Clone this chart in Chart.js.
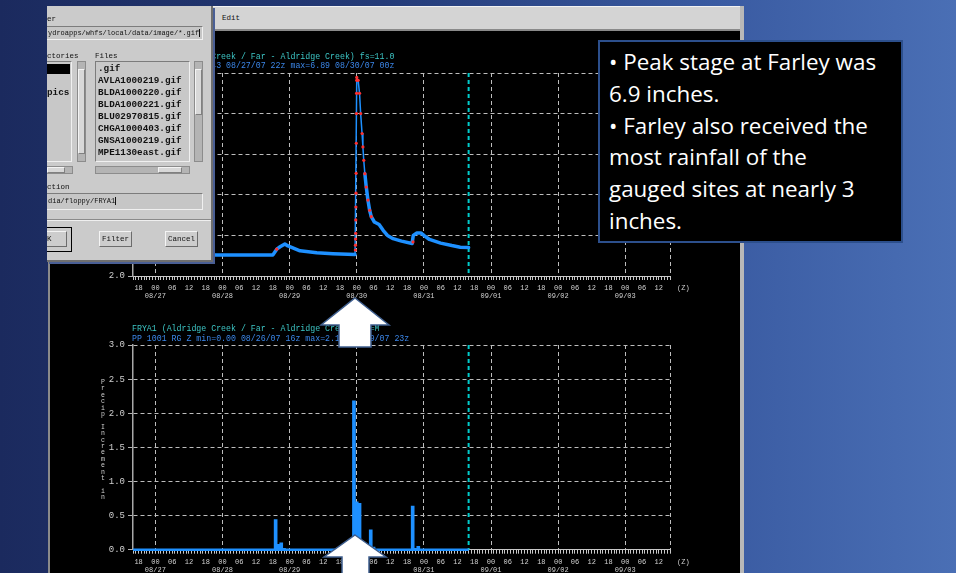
<!DOCTYPE html>
<html lang="en">
<head>
<meta charset="UTF-8" />
<title>FRYA1 Aldridge Creek at Farley</title>
<script src="https://cdn.jsdelivr.net/npm/chart.js"></script>
<style>
  body {
    margin: 0;
    width: 956px;
    height: 573px;
    overflow: hidden;
    position: relative;
    background: linear-gradient(90deg, #1b2a5e 0%, #243b78 40%, #3a5ba2 75%, #4a6fb5 100%);
    font-family: 'Liberation Mono', 'DejaVu Sans Mono', monospace;
  }
  .abs { position: absolute; }
  #win {
    left: 48px; top: 6px; width: 694px; height: 567px;
    background: #000; border-left: 2px solid #8a8a8a; box-sizing: border-box;
  }
  #menubar {
    left: 213px; top: 6px; width: 530px; height: 25px;
    background: #d4d4d4; border-top: 1px solid #f2f2f2; border-bottom: 2px solid #8a8a8a;
    box-sizing: border-box; font-size: 7.5px; line-height: 22px; padding-left: 9px; color: #111;
  }
  #rightedge { left: 740px; top: 6px; width: 4px; height: 567px; background: #b8b8b8; }
  canvas { position: absolute; z-index: 2; }
  .ttl { position: absolute; z-index: 3; white-space: pre; font-size: 8.25px; line-height: 10px; }
  .teal { color: #3cc4c4; }
  .blue { color: #3b86e8; }
  .zlab { position: absolute; z-index: 3; color: #d0d0d0; font-size: 7px; line-height: 8px; }
  #ylab {
    position: absolute; z-index: 3; left: 100px; top: 380px; width: 6px;
    color: #d0d0d0; font-size: 6.5px; line-height: 6.4px; white-space: pre; text-align: center;
  }

  /* file selection dialog */
  #dlg {
    left: 47px; top: 6px; width: 166px; height: 256px; z-index: 5; overflow: hidden;
    background: #cbcbcb; border-right: 2px solid #6f6f6f; border-bottom: 2px solid #6f6f6f;
    box-sizing: border-box; box-shadow: 2px 2px 0 #4a5f95; color: #111;
  }
  #dlg div { position: absolute; box-sizing: border-box; }
  #dlg .lbl { font-size: 7.5px; line-height: 10px; white-space: pre; }
  #dlg .field {
    background: #c6c6c6; border-top: 1px solid #7c7c7c; border-left: 1px solid #7c7c7c;
    border-bottom: 1px solid #f0f0f0; border-right: 1px solid #f0f0f0;
    font-size: 7px; white-space: pre; padding-left: 4px;
  }
  #dlg .list {
    background: #c8c8c8; border-top: 1px solid #7c7c7c; border-left: 1px solid #7c7c7c;
    border-bottom: 1px solid #f0f0f0; border-right: 1px solid #f0f0f0;
  }
  #dlg .item { font-size: 9.3px; font-weight: bold; line-height: 12px; white-space: pre; }
  #dlg .sb { background: #b4b4b4; border: 1px solid #8c8c8c; }
  #dlg .thumb { background: #d8d8d8; border-top: 1px solid #f4f4f4; border-left: 1px solid #f4f4f4;
    border-bottom: 1px solid #808080; border-right: 1px solid #808080; }
  #dlg .btn {
    background: #cdcdcd; border-top: 1px solid #f4f4f4; border-left: 1px solid #f4f4f4;
    border-bottom: 1px solid #6c6c6c; border-right: 1px solid #6c6c6c;
    font-size: 7.5px; line-height: 14px; text-align: center;
  }
  #dlg .cursor { display: inline-block; width: 1px; height: 8px; background: #111; vertical-align: middle; }

  #note {
    left: 598px; top: 40px; width: 305px; height: 203px; z-index: 7;
    background: #000; border: 2px solid #2c4f8c; box-sizing: border-box;
    padding: 4px 0 0 9px; color: #fff; font-family: 'Open Sans', Lato, sans-serif;
    font-size: 22.4px; line-height: 31.8px; white-space: nowrap;
  }
  #arrows { position: absolute; left: 0; top: 0; z-index: 6; }
</style>
</head>
<body>

<div class="abs" id="win"></div>
<div class="abs" id="menubar">Edit</div>
<div class="abs" id="rightedge"></div>

<div class="ttl teal" style="left:132px; top:52px;">FRYA1 (Aldridge Creek / Far - Aldridge Creek) fs=11.0</div>
<div class="ttl blue" style="left:132px; top:61px;">HG 0 RZ Z min=2.43 08/27/07 22z max=6.89 08/30/07 00z</div>
<div class="ttl teal" style="left:132px; top:324px;">FRYA1 (Aldridge Creek / Far - Aldridge Creek) fs=M</div>
<div class="ttl blue" style="left:132px; top:334px;">PP 1001 RG Z min=0.00 08/26/07 16z max=2.18 08/29/07 23z</div>
<div class="zlab" style="left:677px; top:284px;">(Z)</div>
<div class="zlab" style="left:677px; top:558px;">(Z)</div>
<div id="ylab"></div>

<canvas id="stageChart" width="697" height="272" style="left:48px; top:31px;"></canvas>
<canvas id="precipChart" width="697" height="270" style="left:48px; top:303px;"></canvas>

<div class="abs" id="dlg">
  <div class="lbl" style="left:0; top:8px;">er</div>
  <div class="field" style="left:-4px; top:20px; width:160px; height:14px; line-height:12px;">ydroapps/whfs/local/data/image/*.gif<span class="cursor"></span></div>
  <div class="lbl" style="left:0; top:45px;">ctories</div>
  <div class="lbl" style="left:48px; top:45px;">Files</div>

  <div class="list" style="left:-4px; top:55px; width:29px; height:101px;"></div>
  <div style="left:0; top:58px; width:23px; height:10px; background:#000;"></div>
  <div class="item" style="left:0; top:81px;">pics</div>
  <div class="sb" style="left:30px; top:55px; width:9px; height:101px;"></div>
  <div class="thumb" style="left:31px; top:63px; width:7px; height:85px;"></div>

  <div class="list" style="left:48px; top:55px; width:95px; height:101px;"></div>
  <div class="item" style="left:51px; top:57px;">.gif
AVLA1000219.gif
BLDA1000220.gif
BLDA1000221.gif
BLU02970815.gif
CHGA1000403.gif
GNSA1000219.gif
MPE1130east.gif</div>
  <div class="sb" style="left:147px; top:55px; width:9px; height:101px;"></div>
  <div class="thumb" style="left:148px; top:63px; width:7px; height:46px;"></div>

  <div class="sb" style="left:-4px; top:160px; width:30px; height:8px;"></div>
  <div class="thumb" style="left:0; top:161px; width:18px; height:6px;"></div>
  <div class="sb" style="left:48px; top:160px; width:95px; height:8px;"></div>
  <div class="thumb" style="left:111px; top:161px; width:24px; height:6px;"></div>

  <div class="lbl" style="left:0; top:176px;">ction</div>
  <div class="field" style="left:-4px; top:187px; width:160px; height:17px; line-height:15px;">dia/floppy/FRYA1<span class="cursor"></span></div>
  <div style="left:-4px; top:213px; width:172px; height:2px; border-top:1px solid #8a8a8a; border-bottom:1px solid #efefef;"></div>

  <div style="left:-25px; top:221px; width:50px; height:25px; border:1px solid #000;"></div>
  <div class="btn" style="left:-20px; top:225px; width:40px; height:16px;">OK</div>
  <div class="btn" style="left:52px; top:225px; width:33px; height:16px;">Filter</div>
  <div class="btn" style="left:118px; top:225px; width:33px; height:16px;">Cancel</div>
</div>

<svg id="arrows" width="956" height="573">
  <polygon points="355,298 389,325 371,325 371,347 339,347 339,325 321,325"
           fill="#ffffff" stroke="#3f5f8f" stroke-width="1.5"/>
  <polygon points="355,535 386,557 369,557 369,575 342,575 342,557 324,557"
           fill="#ffffff" stroke="#3f5f8f" stroke-width="1.5"/>
</svg>

<div class="abs" id="note">• Peak stage at Farley was<br>6.9 inches.<br>• Farley also received the<br>most rainfall of the<br>gauged sites at nearly 3<br>inches.</div>

<script>
  // time axis: hours counted from 08/26 16z
  const startHour = 16;
  const totalHours = 192;
  const nowHour = 120;
  const hourLabels = ['00', '06', '12', '18'];
  const dayLabels = ['08/27', '08/28', '08/29', '08/30', '08/31', '09/01', '09/02', '09/03'];

  // river stage (FRYA1 HG)
  const stageHours = [0, 15, 30, 45, 50, 51.4, 52.6, 54.3, 55.4, 59.7, 65.7, 71.5, 79.4, 80,
    80.5, 81, 81.4, 81.9, 82.2, 82.5, 82.9, 83.4, 84, 84.6, 85.2, 86.3, 88, 89.5, 91, 93, 96,
    99.8, 100.2, 101.5, 103, 104, 106, 110, 114, 117, 120];
  const stageValues = [2.54, 2.53, 2.52, 2.52, 2.52, 2.66, 2.72, 2.79, 2.74, 2.62, 2.57, 2.55, 2.53, 6.89,
    6.82, 6.50, 6.00, 5.51, 5.18, 4.85, 4.52, 4.19, 3.87, 3.62, 3.46, 3.33, 3.27, 3.12, 3.00, 2.92, 2.86,
    2.80, 3.00, 3.06, 3.06, 3.00, 2.90, 2.81, 2.75, 2.71, 2.70];

  // observed points drawn in red
  const obsHours = [51.4, 79.5, 79.55, 79.6, 79.62, 79.66, 79.7, 79.74, 79.78, 79.84, 79.9, 79.94, 79.98, 80,
    80.5, 81, 81.4, 81.9, 82.2, 82.5, 82.9, 83.4, 84, 84.6, 85.2, 100.1];
  const obsValues = [2.66, 2.64, 2.76, 2.91, 3.05, 3.38, 3.70, 4.04, 4.53, 5.27, 6.00, 6.50, 6.82, 6.89,
    6.82, 6.50, 6.00, 5.51, 5.18, 4.85, 4.52, 4.19, 3.87, 3.62, 3.46, 2.84];

  // hourly precip increment (PP), inches
  const precipHours = [51, 52, 53, 54, 79, 80, 81, 85, 86, 100, 101, 102];
  const precipValues = [0.44, 0.08, 0.10, 0.02, 2.18, 0.70, 0.68, 0.29, 0.04, 0.64, 0.02, 0.05];
  const precipZeroHours = [0, 120];
  const precipZeroValues = [0, 0];

  const precipAxisTitle = 'Precip Increment in';

  const gridColor = '#bdbdbd';
  const labelColor = '#d0d0d0';
  const monoFont = "'Liberation Mono', 'DejaVu Sans Mono', monospace";

  document.getElementById('ylab').textContent = precipAxisTitle.split('').join('\n');

  const hourTicks = Array.from({ length: totalHours + 1 }, (_, i) => i);

  function hourTick(v) {
    const clock = (startHour + v) % 24;
    if (clock % 6 !== 0) return '';
    const hh = hourLabels[clock / 6];
    if (clock === 0) return [hh, dayLabels[(startHour + v) / 24 - 1]];
    return hh;
  }

  function dayGrid(ctx) {
    if (!ctx.tick) return 'rgba(0,0,0,0)';
    const v = ctx.tick.value;
    return ((startHour + v) % 24 === 0 || v === totalHours) ? gridColor : 'rgba(0,0,0,0)';
  }

  function pts(xs, ys) {
    return xs.map((x, i) => ({ x, y: ys[i] }));
  }

  const nowLine = {
    id: 'nowLine',
    beforeDatasetsDraw(chart) {
      const { ctx, chartArea, scales } = chart;
      const x = scales.x.getPixelForValue(nowHour);
      ctx.save();
      ctx.strokeStyle = '#00cccc';
      ctx.lineWidth = 2;
      ctx.setLineDash([4, 3]);
      ctx.beginPath();
      ctx.moveTo(x, chartArea.top);
      ctx.lineTo(x, chartArea.bottom);
      ctx.stroke();
      ctx.restore();
    }
  };

  function xScale(axisHeight) {
    return {
      type: 'linear', min: 0, max: totalHours, offset: false,
      afterBuildTicks: s => { s.ticks = hourTicks.map(v => ({ value: v })); },
      afterFit: s => { s.height = axisHeight; },
      ticks: {
        autoSkip: false, maxRotation: 0, minRotation: 0, padding: 4,
        color: labelColor, font: { family: monoFont, size: 7, lineHeight: 1.15 },
        callback: hourTick
      },
      grid: { color: dayGrid, tickColor: '#c8c8c8', tickLength: 4, lineWidth: 1, offset: false },
      border: { color: '#c8c8c8', width: 1, dash: [4, 3] }
    };
  }

  function yScale(min, max, step) {
    return {
      min, max,
      afterFit: s => { s.width = 85; },
      ticks: {
        stepSize: step, padding: 3, color: labelColor,
        font: { family: monoFont, size: 9 },
        callback: v => v.toFixed(1)
      },
      grid: { color: gridColor, tickColor: '#b0b0b0', tickLength: 5, lineWidth: 1 },
      border: { color: '#a8a8a8', width: 1.5, dash: [4, 3] }
    };
  }

  const commonOpts = {
    responsive: false,
    animation: false,
    devicePixelRatio: 1,
    layout: { padding: { top: 42, right: 75, left: 0, bottom: 0 } },
    plugins: { legend: { display: false }, tooltip: { enabled: false } }
  };

  new Chart(document.getElementById('stageChart'), {
    type: 'line',
    data: {
      datasets: [
        {
          label: 'observed',
          data: pts(obsHours, obsValues),
          showLine: false,
          pointRadius: 1.6,
          pointBackgroundColor: '#ff3030',
          pointBorderWidth: 0
        },
        {
          label: 'stage',
          data: pts(stageHours, stageValues),
          borderColor: '#1e90ff',
          borderWidth: 3.5,
          pointRadius: 0,
          tension: 0,
          borderJoinStyle: 'round',
          borderCapStyle: 'round',
          segment: {
            borderWidth: c => Math.max(c.p0.parsed.y, c.p1.parsed.y) > 4.6 ? 1.5 : 3.5
          }
        }
      ]
    },
    options: Object.assign({}, commonOpts, {
      scales: { x: xScale(27), y: yScale(2, 7, 1) }
    }),
    plugins: [nowLine]
  });

  new Chart(document.getElementById('precipChart'), {
    type: 'bar',
    data: {
      datasets: [
        {
          type: 'bar',
          label: 'precip',
          data: pts(precipHours, precipValues),
          backgroundColor: '#1e90ff',
          barThickness: 3,
          grouped: false
        },
        {
          type: 'line',
          label: 'zero',
          data: pts(precipZeroHours, precipZeroValues),
          borderColor: '#1e90ff',
          backgroundColor: '#1e90ff',
          borderWidth: 2.5,
          pointRadius: 0,
          fill: false,
          clip: false
        }
      ]
    },
    options: Object.assign({}, commonOpts, {
      scales: { x: xScale(23.3), y: yScale(0, 3, 0.5) }
    }),
    plugins: [nowLine]
  });
</script>

</body>
</html>
